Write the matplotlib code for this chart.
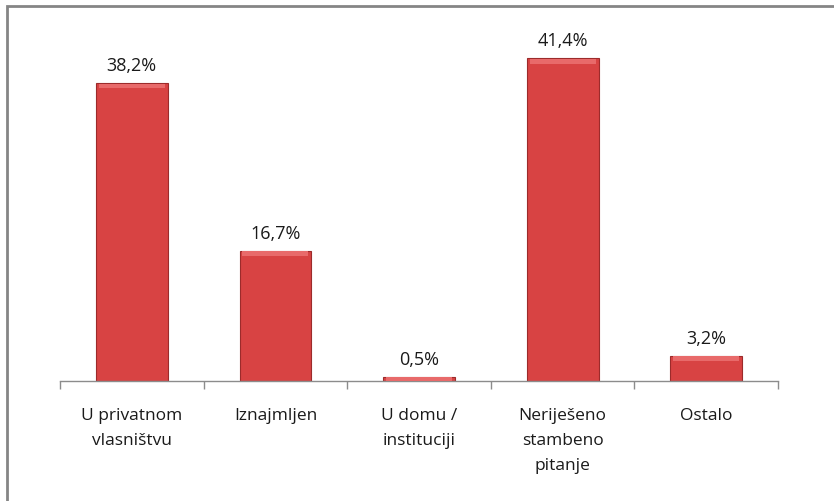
import matplotlib
matplotlib.use("Agg")
import matplotlib.pyplot as plt
from matplotlib.patches import Rectangle
import numpy as np

categories = ["U privatnom\nvlasništvu", "Iznajmljen", "U domu /\ninstituciji",
              "Neriješeno\nstambeno\npitanje", "Ostalo"]
values = [38.2, 16.7, 0.5, 41.4, 3.2]
value_labels = ["38,2%", "16,7%", "0,5%", "41,4%", "3,2%"]

plt.rcParams['font.family'] = ['Open Sans', 'DejaVu Sans']

W, H = 834, 502
fig = plt.figure(figsize=(W / 100, H / 100), dpi=100)
fig.patch.set_facecolor('white')

# outer chart frame (left and top edges visible)
fig.add_artist(Rectangle((7 / W, -0.1), 1.2, 1 - 7 / H + 0.1, transform=fig.transFigure,
                         fill=False, edgecolor='#858585', linewidth=2))

ax = fig.add_axes([60 / W, 120 / H, 718 / W, 350.6 / H])
x = np.arange(len(categories))
bars = ax.bar(x, values, width=0.5, color='#d84343', edgecolor='#9c2b2b', linewidth=0.8, zorder=2)

# bevel highlight along the top of each bar
for b in bars:
    h = b.get_height()
    ax.bar(b.get_x() + b.get_width() / 2, min(h, 0.6), width=b.get_width() * 0.92,
           bottom=h - min(h, 0.6) - 0.05, color='#e86a6a', linewidth=0, zorder=3)

for xi, v, lab in zip(x, values, value_labels):
    ax.annotate(lab, (xi, v), xytext=(0, 6.5), textcoords='offset points',
                ha='center', va='bottom', fontsize=13, color='#1a1a1a')

ax.set_xlim(-0.5, len(categories) - 0.5)
ax.set_ylim(0, 45)
ax.set_yticks([])
for s in ['left', 'right', 'top']:
    ax.spines[s].set_visible(False)
ax.spines['bottom'].set_color('#8c8c8c')
ax.spines['bottom'].set_linewidth(1)

ax.set_xticks(np.arange(len(categories) + 1) - 0.5, minor=False)
ax.set_xticklabels([])
ax.tick_params(axis='x', which='major', length=6, color='#8c8c8c', width=1)
ax.set_xticks(x, minor=True)
ax.set_xticklabels(categories, minor=True, fontsize=12.5, color='#1a1a1a', linespacing=1.75)
ax.tick_params(axis='x', which='minor', length=0, pad=19)

fig.savefig("out.png", dpi=100)
